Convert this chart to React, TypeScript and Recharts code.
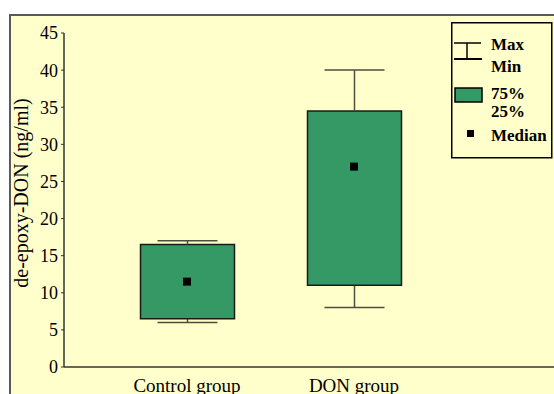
import { ComposedChart, Bar, Scatter, XAxis, YAxis } from "recharts"

const groups = ["Control group", "DON group"]
const minVals = [6.0, 8.0]
const q1Vals = [6.5, 11.0]
const medVals = [11.5, 27.0]
const q3Vals = [16.5, 34.5]
const maxVals = [17.0, 40.0]
const yTicks = [0, 5, 10, 15, 20, 25, 30, 35, 40, 45]

const GREEN = "#359966"
const BG = "#FFFFCC"
const SERIF = "'Liberation Serif', 'Times New Roman', serif"

// stacked pieces: invisible base, lower whisker, box, upper whisker
const rows = groups.map((g, i) => ({
  group: g,
  base: minVals[i],
  lowWhisker: q1Vals[i] - minVals[i],
  box: q3Vals[i] - q1Vals[i],
  highWhisker: maxVals[i] - q3Vals[i],
  median: medVals[i],
}))

const CAP = 60

function LowWhisker(p: any) {
  const cx = p.x + p.width / 2
  const bottom = p.y + p.height
  return (
    <g stroke="#4d4d3d" strokeWidth={1.5}>
      <line x1={cx} x2={cx} y1={p.y} y2={bottom} />
      <line x1={cx - CAP / 2} x2={cx + CAP / 2} y1={bottom} y2={bottom} />
    </g>
  )
}

function HighWhisker(p: any) {
  const cx = p.x + p.width / 2
  return (
    <g stroke="#4d4d3d" strokeWidth={1.5}>
      <line x1={cx} x2={cx} y1={p.y} y2={p.y + p.height} />
      <line x1={cx - CAP / 2} x2={cx + CAP / 2} y1={p.y} y2={p.y} />
    </g>
  )
}

function MedianDot(p: any) {
  return <rect x={p.cx - 4} y={p.cy - 4} width={8} height={8} fill="#000" />
}

function LegendBox() {
  const txt = { fontFamily: SERIF, fontSize: 17, fontWeight: "bold", fill: "#000" } as const
  return (
    <svg width={102} height={137} style={{ position: "absolute", left: 451, top: 22 }}>
      <rect x={0.75} y={0.75} width={100} height={135} fill={BG} stroke="#000" strokeWidth={1.5} />
      <line x1={3} x2={30} y1={21} y2={21} stroke="#000" strokeWidth={1.5} />
      <line x1={16} x2={16} y1={21} y2={37} stroke="#000" strokeWidth={1.5} />
      <line x1={3} x2={31} y1={37} y2={37} stroke="#000" strokeWidth={2} />
      <text x={40} y={28} {...txt}>Max</text>
      <text x={40} y={50} {...txt}>Min</text>
      <rect x={4} y={66} width={27} height={14} fill={GREEN} stroke="#000" strokeWidth={1.5} />
      <text x={40} y={77} {...txt}>75%</text>
      <text x={40} y={95} {...txt}>25%</text>
      <rect x={16} y={108} width={7} height={7} fill="#000" />
      <text x={40} y={119} {...txt}>Median</text>
    </svg>
  )
}

export default function App() {
  return (
    <div style={{ position: "fixed", left: 0, top: 0, width: 554, height: 394, overflow: "hidden", background: "#fff" }}>
      <div style={{ position: "absolute", left: 9, top: 14, width: 600, height: 420, border: "2px solid #5a5a5a", background: BG }} />
      <div style={{ position: "absolute", left: 0, top: 0 }}>
        <ComposedChart width={620} height={400} data={rows} margin={{ top: 33, right: 0, bottom: 0, left: 0 }}>
          <XAxis
            dataKey="group"
            height={33}
            padding={{ left: 39.5, right: 182.5 }}
            axisLine={{ stroke: "#333", strokeWidth: 1.5 }}
            tickLine={false}
            tickSize={0}
            tickMargin={12}
            tick={{ fontFamily: SERIF, fontSize: 19, fill: "#000" }}
            interval={0}
          />
          <YAxis
            width={64}
            domain={[0, 45]}
            ticks={yTicks}
            interval={0}
            axisLine={{ stroke: "#333", strokeWidth: 1.5 }}
            tickLine={{ stroke: "#333" }}
            tickSize={3}
            tickMargin={3}
            tick={{ fontFamily: SERIF, fontSize: 18, fill: "#000" }}
            label={{ value: "de-epoxy-DON (ng/ml)", angle: -90, position: "center", dx: -11, dy: -7, style: { fontFamily: SERIF, fontSize: 20, fill: "#000" } }}
          />
          <Bar dataKey="base" stackId="s" fill="none" barSize={94} isAnimationActive={false} />
          <Bar dataKey="lowWhisker" stackId="s" barSize={94} shape={LowWhisker} isAnimationActive={false} />
          <Bar dataKey="box" stackId="s" barSize={94} fill={GREEN} stroke="#1a1a1a" strokeWidth={1.5} isAnimationActive={false} />
          <Bar dataKey="highWhisker" stackId="s" barSize={94} shape={HighWhisker} isAnimationActive={false} />
          <Scatter dataKey="median" shape={MedianDot} isAnimationActive={false} />
        </ComposedChart>
      </div>
      <LegendBox />
    </div>
  )
}
